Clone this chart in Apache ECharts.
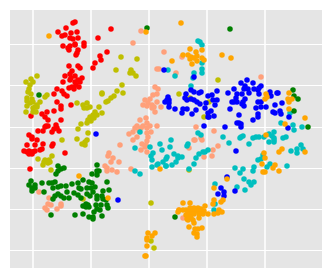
<!DOCTYPE html>
<html><head><meta charset="utf-8">
<style>html,body{margin:0;padding:0;background:#fff}#c{width:333px;height:279px}</style>
<script src="https://cdn.jsdelivr.net/npm/echarts@6/dist/echarts.min.js"></script>
</head><body><div id="c"></div>
<script>
const xTicks=[-116,-58,0,58,116];
const yTicks=[-82,-41,0,41,83,124];
const red=[-74,146,-76,145,-83,140,-91,136,-78,135,-72,136,-84,133,-87,132,-79,130,-71,130,-76,129,-74,124,-65,125,-65,122,-86,122,-79,122,-81,120,-74,123,-80,118,-71,118,-72,115,-73,113,-51,130,-38,139,-42,116,-49,112,-48,108,-54,105,-56,100,-80,102,-71,102,-69,100,-77,97,-79,94,-84,92,-74,92,-67,90,-78,90,-71,88,-79,88,-74,86,-69,86,-86,86,-73,83,-70,81,-77,81,-80,80,-75,79,-92,79,-87,77,-95,74,-85,74,-82,72,-92,66,-88,62,-88,59,-95,57,-78,63,-102,56,-107,54,-104,51,-101,48,-88,48,-103,42,-101,42,-93,43,-92,40,-95,39,-90,37,-111,37,-106,37,-104,41,-97,36,-118,52,-120,33,-117,31,-122,23,-125,17,-122,16,-120,17,-117,16,-116,16,-114,17,-120,14,-117,14,-109,18,-107,19,-114,23,-106,24,-96,24,-97,22,-84,15,-119,-1,-117,29,-112,28];
const olive=[-112,92,-123,86,-118,89,-116,86,-119,83,-120,79,-121,76,-118,74,-122,70,-122,67,-117,69,-116,66,-109,66,-112,63,-114,61,-116,60,-122,62,-116,56,-113,56,-123,56,-104,71,-102,73,-119,65,-112,61,-28,111,-12,109,-33,98,-18,98,-16,95,-13,92,-19,95,-27,83,-32,77,-26,75,-35,72,-38,70,-41,67,-43,66,-47,75,-47,74,-72,65,-62,65,-66,63,-65,60,-59,61,-62,60,-50,61,-47,55,-54,56,-56,53,-52,53,-59,51,-55,50,-61,48,-58,47,-62,45,-68,44,-71,39,-61,35,-87,28,-72,29,-62,28,-64,26,-67,24,-64,23,-111,9,-104,8,-100,8,-97,12,-105,6,-106,3,-101,5,-99,6,-98,-2,-66,-31,2,-35,2,-73,5,-80,69,88,30,74,41,70,60,66,55,51,40,-2];
const green=[-110,73,-2,140,81,139,144,78,145,72,149,69,145,57,159,41,26,-49,-91,2,-85,0,-88,-1,-91,-3,-93,-6,-52,3,-52,-3,-50,-3,-57,-6,-52,-7,-118,-13,-120,-17,-114,-17,-107,-15,-100,-15,-97,-15,-94,-14,-117,-20,-114,-20,-117,-23,-105,-24,-96,-20,-91,-19,-88,-18,-83,-18,-77,-16,-71,-15,-66,-12,-60,-14,-57,-15,-42,-14,-70,-20,-68,-21,-62,-20,-58,-20,-54,-19,-82,-24,-75,-25,-56,-24,-46,-23,-40,-22,-91,-26,-94,-28,-96,-31,-88,-28,-85,-30,-80,-30,-71,-27,-68,-30,-62,-26,-59,-28,-52,-28,-47,-28,-52,-31,-46,-31,-43,-32,-63,-36,-66,-38,-61,-37,-63,-39,-60,-39,-53,-37,-48,-37,-42,-37,-41,-40,-52,-41,-55,-44,-49,-42,-98,-47,-74,-47,-66,-46,-60,-49,-56,-49,-56,-51,-47,-48];
const orange=[-100,132,-3,136,-70,-8,-41,-30,11,-1,-1,-65,6,-65,3,-68,-2,-70,-2,-72,-2,-78,-4,-88,-3,-88,32,145,41,119,53,118,47,116,39,113,34,113,42,111,48,112,41,109,45,110,48,107,53,110,55,108,43,104,23,107,73,113,82,110,140,75,117,74,116,69,118,71,139,69,143,69,140,66,140,59,156,50,136,44,117,33,115,15,116,10,113,4,133,19,130,16,156,16,126,3,124,0,130,-3,114,-4,116,-4,78,-11,65,-20,65,-32,74,-32,72,-34,64,-36,34,-35,41,-35,56,-38,30,-42,34,-42,29,-44,37,-42,41,-40,45,-40,49,-40,52,-41,39,-44,43,-43,47,-43,51,-43,55,-43,37,-47,41,-46,45,-46,50,-46,54,-46,38,-51,42,-50,39,-52,44,-52,41,-49,50,-50,45,-55,59,-46,65,-46,70,-42,73,-44,69,-45,40,-59,46,-61,49,-61,53,-60,45,-65,48,-66,48,-69];
const blue=[15,98,16,66,18,68,-53,34,-31,-32,45,91,92,85,98,88,104,85,112,82,96,82,95,79,99,79,105,79,110,80,109,78,100,75,110,74,85,79,79,75,93,74,88,74,87,70,96,69,85,66,83,66,88,66,94,66,93,64,95,62,109,66,112,66,107,60,112,61,117,61,121,76,122,72,128,75,129,75,126,63,133,65,124,56,126,55,131,57,132,54,140,51,109,54,109,51,104,48,90,53,81,59,88,45,90,45,92,44,92,41,76,41,139,40,68,77,63,73,59,72,64,68,68,68,57,65,66,63,56,60,47,58,62,57,59,55,59,51,60,51,65,52,43,54,33,55,38,59,34,59,26,59,20,61,20,65,19,71,20,68,37,74,42,78,45,76,50,75,52,76,36,70,42,69,38,68,45,68,48,66,51,64,55,42,87,17,78,-9,72,-20,75,-24,69,-26,75,-28,86,-23];
const cyan=[-9,36,49,127,51,126,53,123,53,105,53,99,53,95,45,95,44,90,19,98,26,92,42,82,141,55,132,45,144,43,153,41,145,38,125,36,120,34,123,32,49,35,52,33,74,31,92,31,94,32,91,30,104,30,107,31,110,31,115,31,125,30,134,30,137,31,22,28,39,24,38,22,21,21,80,25,100,24,120,26,125,26,125,28,152,23,154,19,148,19,148,15,142,17,59,18,54,16,50,14,56,16,47,10,45,4,25,14,18,11,29,12,33,11,29,10,27,6,23,3,17,2,114,13,112,9,109,8,105,1,104,-3,121,4,118,1,138,2,94,-1,86,0,91,-5,95,-11,100,-14,105,-14,102,-17,96,-22,88,-19,66,-16,40,-1,65,-42,66,-36,-14,20,1,21,13,18,4,15,2,12,3,8,17,9,14,6,9,4,8,3,3,1,17,2,-14,-3,-9,-6,11,24];
const salmon=[-8,137,-16,125,15,116,8,99,10,99,6,81,9,79,8,74,4,73,1,69,-4,68,8,66,-1,65,-6,63,3,63,-2,62,5,61,12,61,6,56,3,60,-3,50,-9,48,-2,45,-6,42,-12,42,-14,40,-8,40,-2,40,1,42,8,42,-16,36,-10,37,-20,34,-2,35,2,36,-12,31,-1,31,-16,28,-2,27,-7,24,-3,23,-4,21,-8,18,-2,16,-29,23,-40,15,-41,12,-36,10,-30,6,-38,6,-44,2,-42,0,-37,-2,-32,-4,-42,-3,-18,-1,-110,-24,-100,-30,-101,-36,-98,-37,-104,-40,-102,-42,-92,-41,-88,-36,-88,-38,33,111,27,95,112,91,47,41,65,37,52,30,45,28,46,28,53,28,40,20,69,22,64,18,55,11,63,12,34,-50,30,-42];
const pts=a=>{const r=[];for(let i=0;i<a.length;i+=2)r.push([a[i],a[i+1]]);return r;};
const names=['red','olive','salmon','cyan','blue','green','orange'];
const data=[red,olive,salmon,cyan,blue,green,orange];
const colors=['#ff0000','#bfbf00','#ffa07a','#00bfbf','#0000ff','#008000','#ffa500'];
const chart=echarts.init(document.getElementById('c'),null,{renderer:'canvas'});
const ax=(min,max,ticks,w)=>({type:'value',min,max,
  axisLine:{show:false},axisLabel:{show:false},
  axisTick:{show:false,customValues:ticks},
  splitLine:{show:true,lineStyle:{color:'#ffffff',width:w,type:'solid'}}});
chart.setOption({animation:false,backgroundColor:'#ffffff',
 grid:{left:10,right:11,top:10,bottom:11,show:true,backgroundColor:'#e5e5e5',borderWidth:0},
 xAxis:ax(-139,173,xTicks,1.5),
 yAxis:ax(-100,158,yTicks,1),
 series:data.map((d,i)=>({name:names[i],type:'scatter',data:pts(d),symbol:'circle',symbolSize:5.5,
   itemStyle:{color:colors[i],opacity:1}}))});
</script></body></html>
